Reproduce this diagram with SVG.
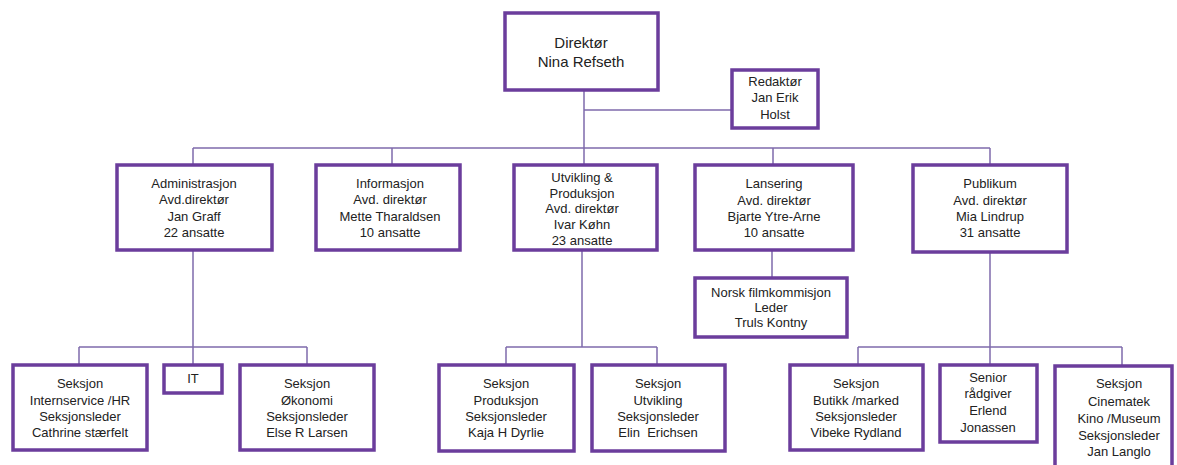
<svg xmlns="http://www.w3.org/2000/svg" width="1177" height="465" viewBox="0 0 1177 465">
<style>
.box{fill:#fff;stroke:#6b3d9c;stroke-width:3.5}
.c line{stroke:#7e6aab;stroke-width:1.5}
text{font-family:"Liberation Sans",Arial,sans-serif;font-size:13px;fill:#222;text-anchor:middle}
.big{font-size:15px}
</style>
<rect width="1177" height="465" fill="#fff"/>
<g class="c" id="connectors">
<line x1="584" y1="90" x2="584" y2="165"/>
<line x1="584" y1="110" x2="732" y2="110"/>
<line x1="193" y1="148" x2="990" y2="148"/>
<line x1="193" y1="148" x2="193" y2="165"/>
<line x1="392" y1="148" x2="392" y2="165"/>
<line x1="773" y1="148" x2="773" y2="165"/>
<line x1="990" y1="148" x2="990" y2="165"/>
<line x1="193" y1="250" x2="193" y2="365"/>
<line x1="79" y1="347" x2="307" y2="347"/>
<line x1="79" y1="347" x2="79" y2="365"/>
<line x1="307" y1="347" x2="307" y2="365"/>
<line x1="582" y1="250" x2="582" y2="347"/>
<line x1="506" y1="347" x2="657" y2="347"/>
<line x1="506" y1="347" x2="506" y2="365"/>
<line x1="657" y1="347" x2="657" y2="365"/>
<line x1="772" y1="250" x2="772" y2="278"/>
<line x1="990" y1="252" x2="990" y2="365"/>
<line x1="858" y1="347" x2="1122" y2="347"/>
<line x1="858" y1="347" x2="858" y2="365"/>
<line x1="1122" y1="347" x2="1122" y2="366"/>
</g>
<g id="direktor"><rect class="box" x="505" y="13" width="153" height="77"/>
<text class="big" x="581" y="48">Direktør</text><text class="big" x="581" y="67">Nina Refseth</text></g>
<g id="redaktor"><rect class="box" x="732" y="70" width="86" height="58"/>
<text x="775" y="86">Redaktør</text><text x="775" y="102">Jan Erik</text><text x="775" y="119">Holst</text></g>
<g id="administrasjon"><rect class="box" x="117" y="165" width="155" height="85"/>
<text x="194" y="188">Administrasjon</text><text x="194" y="204">Avd.direktør</text><text x="194" y="221">Jan Graff</text><text x="194" y="237">22 ansatte</text></g>
<g id="informasjon"><rect class="box" x="316" y="165" width="144" height="85"/>
<text x="390" y="188">Informasjon</text><text x="390" y="204">Avd. direktør</text><text x="390" y="221">Mette Tharaldsen</text><text x="390" y="237">10 ansatte</text></g>
<g id="utvikling"><rect class="box" x="514" y="165" width="143" height="85"/>
<text x="582" y="182">Utvikling &amp;</text><text x="582" y="198">Produksjon</text><text x="582" y="213">Avd. direktør</text><text x="582" y="229">Ivar Køhn</text><text x="582" y="245">23 ansatte</text></g>
<g id="lansering"><rect class="box" x="695" y="165" width="158" height="85"/>
<text x="774" y="188">Lansering</text><text x="774" y="205">Avd. direktør</text><text x="774" y="221">Bjarte Ytre-Arne</text><text x="774" y="237">10 ansatte</text></g>
<g id="publikum"><rect class="box" x="913" y="165" width="154" height="87"/>
<text x="990" y="188">Publikum</text><text x="990" y="205">Avd. direktør</text><text x="990" y="221">Mia Lindrup</text><text x="990" y="237">31 ansatte</text></g>
<g id="filmkommisjon"><rect class="box" x="695" y="278" width="152" height="59"/>
<text x="771" y="297">Norsk filmkommisjon</text><text x="771" y="312">Leder</text><text x="771" y="327">Truls Kontny</text></g>
<g id="internservice"><rect class="box" x="13" y="365" width="134" height="85"/>
<text x="80" y="388">Seksjon</text><text x="80" y="405">Internservice /HR</text><text x="80" y="421">Seksjonsleder</text><text x="80" y="437">Cathrine stærfelt</text></g>
<g id="it"><rect class="box" x="164" y="365" width="58" height="28"/>
<text x="193" y="383">IT</text></g>
<g id="okonomi"><rect class="box" x="240" y="365" width="134" height="85"/>
<text x="307" y="388">Seksjon</text><text x="307" y="405">Økonomi</text><text x="307" y="421">Seksjonsleder</text><text x="307" y="437">Else R Larsen</text></g>
<g id="produksjon"><rect class="box" x="439" y="365" width="135" height="86"/>
<text x="506" y="388">Seksjon</text><text x="506" y="405">Produksjon</text><text x="506" y="421">Seksjonsleder</text><text x="506" y="437">Kaja H Dyrlie</text></g>
<g id="seksjon-utvikling"><rect class="box" x="592" y="365" width="133" height="86"/>
<text x="658" y="388">Seksjon</text><text x="658" y="405">Utvikling</text><text x="658" y="421">Seksjonsleder</text><text x="658" y="437">Elin&#160; Erichsen</text></g>
<g id="butikk"><rect class="box" x="790" y="365" width="133" height="85"/>
<text x="856" y="388">Seksjon</text><text x="856" y="405">Butikk /marked</text><text x="856" y="421">Seksjonsleder</text><text x="856" y="437">Vibeke Rydland</text></g>
<g id="senior"><rect class="box" x="940" y="365" width="97" height="77"/>
<text x="988" y="382">Senior</text><text x="988" y="398">rådgiver</text><text x="988" y="415">Erlend</text><text x="988" y="432">Jonassen</text></g>
<g id="cinematek"><rect class="box" x="1055" y="366" width="117" height="110"/>
<text x="1119" y="388">Seksjon</text><text x="1119" y="406">Cinematek</text><text x="1119" y="423">Kino /Museum</text><text x="1119" y="440">Seksjonsleder</text><text x="1119" y="456">Jan Langlo</text></g>
</svg>
